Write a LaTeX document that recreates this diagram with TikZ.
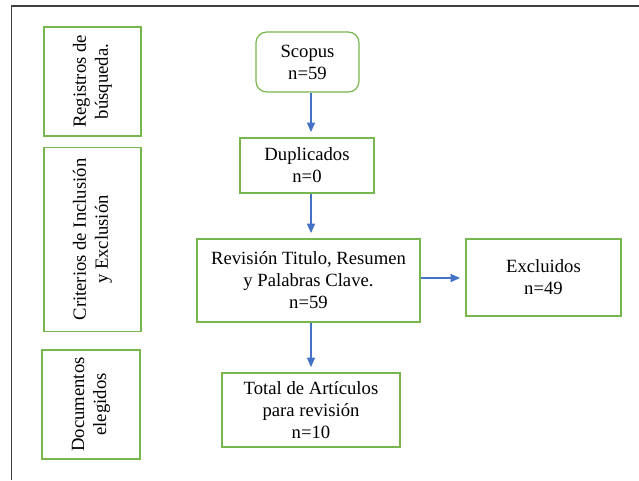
\documentclass[tikz,border=0pt]{standalone}
\usepackage{fontspec}
\setmainfont{Liberation Serif}
\usetikzlibrary{arrows.meta}
\definecolor{boxgreen}{HTML}{78B64E}
\definecolor{arrowblue}{HTML}{4472C4}
\definecolor{framegray}{HTML}{404040}
\begin{document}
\begin{tikzpicture}[x=0.75pt,y=-0.75pt,
  every node/.style={font=\fontsize{14}{16.5}\selectfont},
  gbox/.style={draw=boxgreen,line width=0.9pt,align=center,inner sep=0pt},
  flow/.style={draw=arrowblue,line width=0.8pt,-{Triangle[length=7pt,width=6pt]},shorten >=4pt}]
\useasboundingbox (0,0) rectangle (639,480);
\fill[white] (0,0) rectangle (639,480);
\draw[framegray,line width=1.3pt] (11.5,480) -- (11.5,6) -- (640,6);
% side boxes
\node[gbox,minimum width=97*0.75pt,minimum height=109*0.75pt] (reg) at (92.5,81.5) {};
\node[rotate=90,align=center] at (reg.center) {Registros de\\búsqueda.};
\node[gbox,minimum width=97*0.75pt,minimum height=184*0.75pt] (cri) at (92.5,239.5) {};
\node[rotate=90,align=center] at (cri.center) {Criterios de Inclusión\\y Exclusión};
\node[gbox,minimum width=98*0.75pt,minimum height=109*0.75pt] (doc) at (91,404.5) {};
\node[rotate=90,align=center] at (doc.center) {Documentos\\elegidos};
% flow boxes
\node[gbox,rounded corners=8pt,minimum width=103*0.75pt,minimum height=60*0.75pt] (sco) at (307.5,62) {Scopus\\n=59};
\node[gbox,minimum width=134*0.75pt,minimum height=55*0.75pt] (dup) at (307,165.5) {Duplicados\\n=0};
\node[gbox,minimum width=223*0.75pt,minimum height=83*0.75pt] (rev) at (308.5,280.5) {Revisión Titulo, Resumen\\y Palabras Clave.\\n=59};
\node[gbox,minimum width=155*0.75pt,minimum height=77*0.75pt] (exc) at (543.5,277.5) {Excluidos\\n=49};
\node[gbox,minimum width=178*0.75pt,minimum height=74*0.75pt] (tot) at (311,410) {Total de Artículos\\para revisión\\n=10};
% connectors
\draw[flow] (sco.south -| 311,0) -- (dup.north -| 311,0);
\draw[flow] (dup.south -| 311,0) -- (rev.north -| 311,0);
\draw[flow] (rev.east |- 0,278) -- (exc.west |- 0,278);
\draw[flow] (rev.south -| 311,0) -- (tot.north -| 311,0);
\end{tikzpicture}
\end{document}
